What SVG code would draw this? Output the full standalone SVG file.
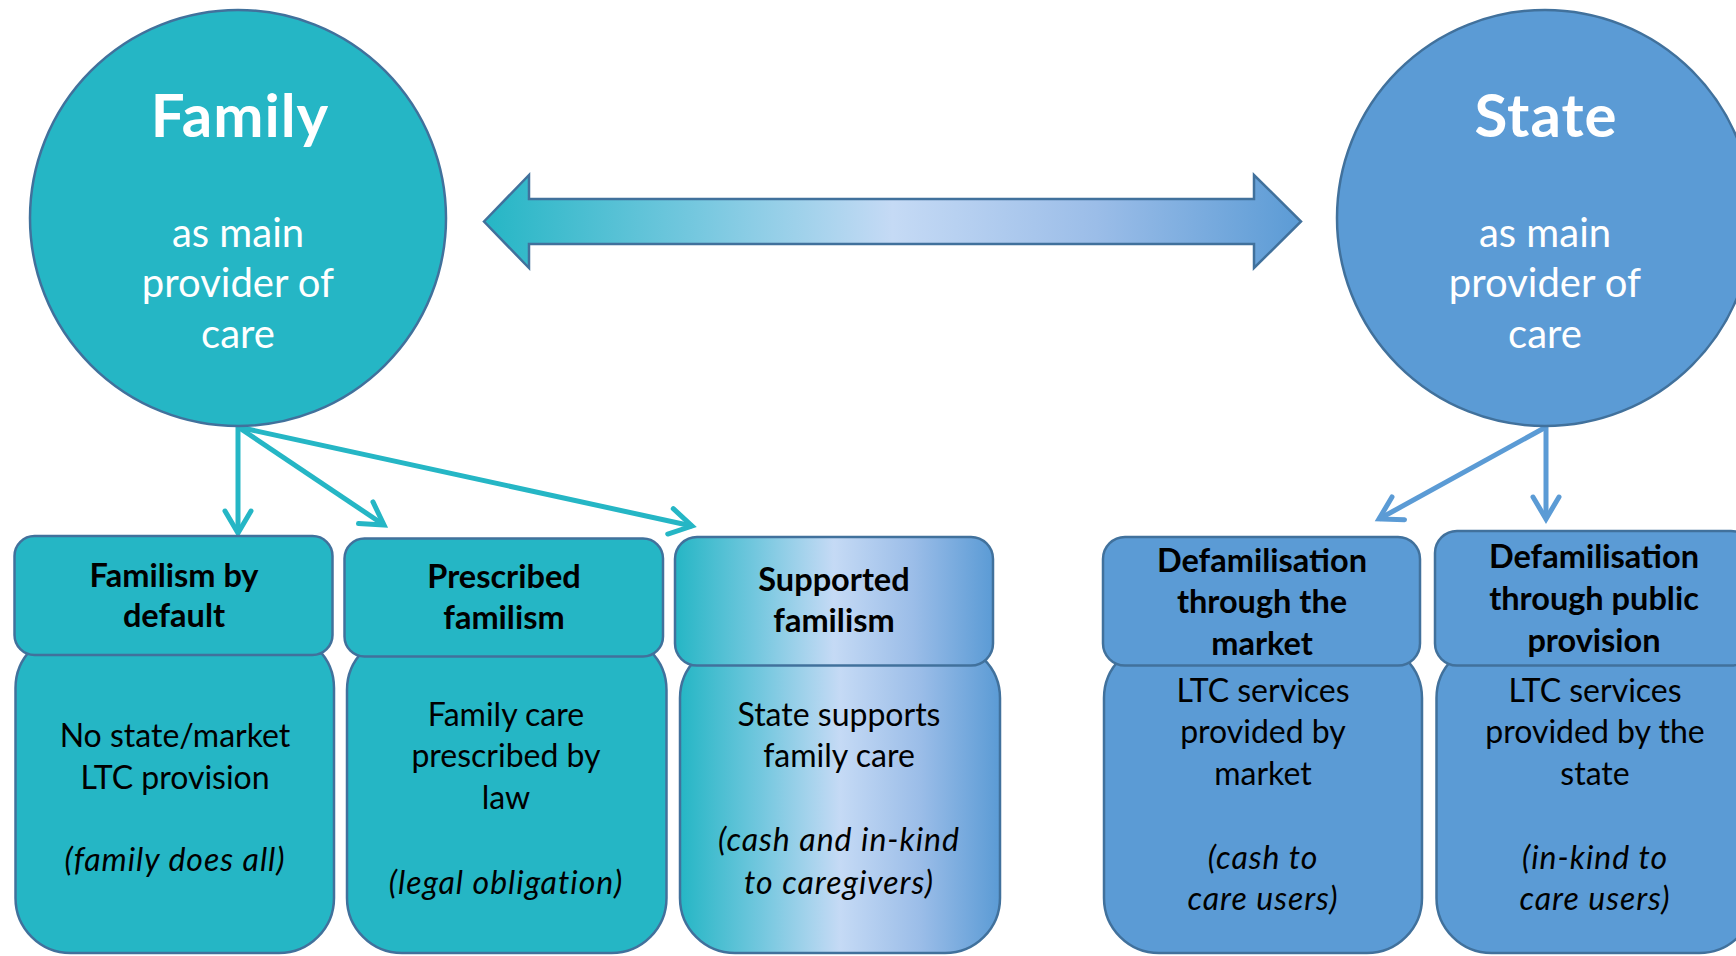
<svg xmlns="http://www.w3.org/2000/svg" width="1736" height="956" viewBox="0 0 1736 956">
<style>
.outline{stroke:#41719C;stroke-width:2.5}
.teal{fill:#25B6C5}
.blue{fill:#5B9BD5}
.title{font-family:Lato,"Liberation Sans",sans-serif;font-weight:bold;font-size:60px;letter-spacing:1px;fill:#fff;text-anchor:middle}
.sub{font-family:Lato,"Liberation Sans",sans-serif;font-size:40px;fill:#fff;text-anchor:middle}
.hd{font-family:Lato,"Liberation Sans",sans-serif;font-weight:bold;font-size:32.5px;fill:#000;text-anchor:middle}
.bd{font-family:Lato,"Liberation Sans",sans-serif;font-size:32px;fill:#000;text-anchor:middle}
.it{font-style:italic;letter-spacing:1px}
.conT{stroke:#25B6C5;stroke-width:5;fill:none}
.conB{stroke:#5B9BD5;stroke-width:5;fill:none}
</style>
<defs>
<linearGradient id="grad" x1="0" y1="0" x2="1" y2="0">
<stop offset="0" stop-color="#25B6C5"/>
<stop offset="0.25" stop-color="#72C7DE"/>
<stop offset="0.5" stop-color="#C5DAF5"/>
<stop offset="0.75" stop-color="#9BBDE8"/>
<stop offset="1" stop-color="#5B9BD5"/>
</linearGradient>
<marker id="arrT" markerUnits="userSpaceOnUse" markerWidth="60" markerHeight="60" refX="0" refY="0" viewBox="-30 -30 60 60" orient="auto" overflow="visible">
<path d="M-22,-13 L0,0 L-22,13" fill="none" stroke="#25B6C5" stroke-width="5" stroke-linecap="round" stroke-linejoin="miter"/>
</marker>
<marker id="arrB" markerUnits="userSpaceOnUse" markerWidth="60" markerHeight="60" refX="0" refY="0" viewBox="-30 -30 60 60" orient="auto" overflow="visible">
<path d="M-22,-13 L0,0 L-22,13" fill="none" stroke="#5B9BD5" stroke-width="5" stroke-linecap="round" stroke-linejoin="miter"/>
</marker>
</defs>
<rect width="1736" height="956" fill="#fff"/>

<g id="connectors">
<line class="conT" x1="238" y1="427" x2="238" y2="533" marker-end="url(#arrT)"/>
<line class="conT" x1="238" y1="427" x2="384" y2="525" marker-end="url(#arrT)"/>
<line class="conT" x1="238" y1="427" x2="692" y2="526" marker-end="url(#arrT)"/>
<line class="conB" x1="1546" y1="427" x2="1379" y2="519" marker-end="url(#arrB)"/>
<line class="conB" x1="1546" y1="427" x2="1546" y2="519" marker-end="url(#arrB)"/>
</g>

<g id="double-arrow">
<path class="outline" fill="url(#grad)" d="M484,221.5 L529,175 L529,199 L1254,199 L1254,175 L1301,221.5 L1254,268 L1254,244 L529,244 L529,268 Z"/>
</g>

<g id="family">
<circle class="teal outline" cx="238" cy="218" r="208"/>
<text class="title" x="240" y="137">Family</text>
<text class="sub" x="238" y="247">as main</text>
<text class="sub" x="238" y="297">provider of</text>
<text class="sub" x="238" y="348">care</text>
</g>

<g id="state">
<circle class="blue outline" cx="1545" cy="218" r="208"/>
<text class="title" x="1546" y="137">State</text>
<text class="sub" x="1545" y="247">as main</text>
<text class="sub" x="1545" y="297">provider of</text>
<text class="sub" x="1545" y="348">care</text>
</g>

<g id="familism-default">
<rect class="teal outline" x="15.5" y="633" width="318.5" height="320" rx="55"/>
<rect class="teal outline" x="14.5" y="536" width="318" height="119" rx="20"/>
<text class="hd" x="174" y="586.5">Familism by</text>
<text class="hd" x="174" y="627">default</text>
<text class="bd" x="175" y="746.5">No state/market</text>
<text class="bd" x="175" y="789">LTC provision</text>
<text class="bd it" x="175" y="871">(family does all)</text>
</g>

<g id="prescribed-familism">
<rect class="teal outline" x="347" y="635" width="319.5" height="318" rx="55"/>
<rect class="teal outline" x="344.5" y="538.5" width="318.5" height="118" rx="20"/>
<text class="hd" x="504" y="587.5">Prescribed</text>
<text class="hd" x="504" y="629">familism</text>
<text class="bd" x="506" y="726">Family care</text>
<text class="bd" x="506" y="767">prescribed by</text>
<text class="bd" x="506" y="809">law</text>
<text class="bd it" x="506" y="893.5">(legal obligation)</text>
</g>

<g id="supported-familism">
<rect class="outline" fill="url(#grad)" x="680" y="643" width="320" height="310" rx="55"/>
<rect class="outline" fill="url(#grad)" x="675" y="537" width="318" height="128.5" rx="22"/>
<text class="hd" x="834" y="591">Supported</text>
<text class="hd" x="834" y="632">familism</text>
<text class="bd" x="839" y="726">State supports</text>
<text class="bd" x="839" y="767">family care</text>
<text class="bd it" x="839" y="851">(cash and in-kind</text>
<text class="bd it" x="839" y="893.5">to caregivers)</text>
</g>

<g id="defam-market">
<rect class="blue outline" x="1104" y="643" width="318" height="310" rx="55"/>
<rect class="blue outline" x="1103" y="537" width="317" height="128.5" rx="22"/>
<text class="hd" x="1262" y="572">Defamilisation</text>
<text class="hd" x="1262" y="613">through the</text>
<text class="hd" x="1262" y="655">market</text>
<text class="bd" x="1263" y="702">LTC services</text>
<text class="bd" x="1263" y="743">provided by</text>
<text class="bd" x="1263" y="785">market</text>
<text class="bd it" x="1263" y="868.5">(cash to</text>
<text class="bd it" x="1263" y="910">care users)</text>
</g>

<g id="defam-public">
<rect class="blue outline" x="1436.5" y="643" width="318" height="310" rx="55"/>
<rect class="blue outline" x="1435" y="531" width="318" height="134.5" rx="22"/>
<text class="hd" x="1594" y="568">Defamilisation</text>
<text class="hd" x="1594" y="610">through public</text>
<text class="hd" x="1594" y="652">provision</text>
<text class="bd" x="1595" y="702">LTC services</text>
<text class="bd" x="1595" y="743">provided by the</text>
<text class="bd" x="1595" y="785">state</text>
<text class="bd it" x="1595" y="868.5">(in-kind to</text>
<text class="bd it" x="1595" y="910">care users)</text>
</g>
</svg>
